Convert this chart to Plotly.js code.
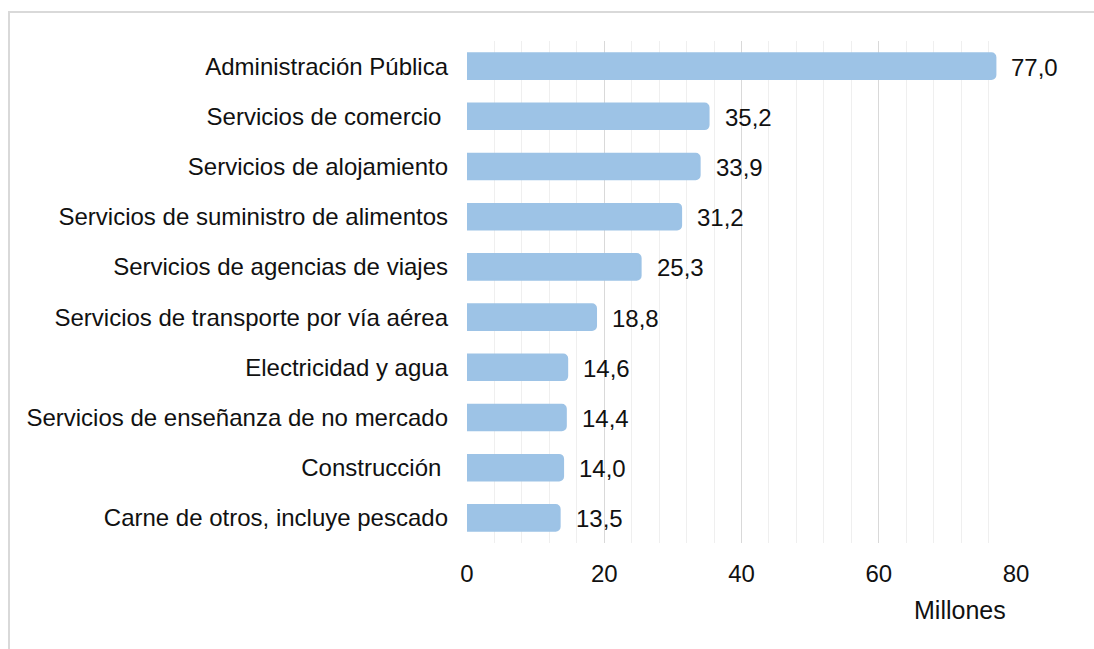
<!DOCTYPE html>
<html>
<head>
<meta charset="utf-8">
<script src="https://cdn.plot.ly/plotly-3.0.1.min.js"></script>
<style>
  html, body { margin: 0; padding: 0; background: #fff; }
  #chart { width: 1094px; height: 649px; }
  #frame { position: absolute; left: 8px; top: 11px; width: 1100px; height: 660px;
           border-left: 2px solid #D9D9D9; border-top: 2px solid #D9D9D9; pointer-events: none; }
</style>
</head>
<body>
<div id="chart"></div>
<div id="frame"></div>
<script>
const categories = [
  "Administración Pública",
  "Servicios de comercio ",
  "Servicios de alojamiento",
  "Servicios de suministro de alimentos",
  "Servicios de agencias de viajes",
  "Servicios de transporte por vía aérea",
  "Electricidad y agua",
  "Servicios de enseñanza de no mercado",
  "Construcción ",
  "Carne de otros, incluye pescado"
];
const values = [77.0, 35.2, 33.9, 31.2, 25.3, 18.8, 14.6, 14.4, 14.0, 13.5];
const xTickValues = [0, 20, 40, 60, 80];
const axisTitle = "Millones";

const font = "Liberation Sans, Arial, sans-serif";
const textColor = "#111111";
const fs = 24;

const trace = {
  type: "bar",
  orientation: "h",
  y: categories,
  x: values,
  marker: { color: "#9DC3E6", cornerradius: 4, line: { color: "#9DC3E6", width: 2 } },
  hoverinfo: "skip"
};

const annotations = categories.map((c, i) => ({
  x: values[i], y: c, xref: "x", yref: "y",
  text: values[i].toFixed(1).replace(".", ","),
  showarrow: false, xanchor: "left", yanchor: "middle", xshift: 14, yshift: -1,
  font: { family: font, size: fs, color: textColor }
}));
annotations.push({
  x: 0.898, y: -0.1335, xref: "paper", yref: "paper",
  text: axisTitle, showarrow: false, xanchor: "center", yanchor: "middle",
  font: { family: font, size: 25, color: textColor }
});

const layout = {
  width: 1094, height: 649,
  margin: { l: 467, r: 78, t: 41, b: 106 },
  paper_bgcolor: "#ffffff", plot_bgcolor: "#ffffff",
  showlegend: false,
  bargap: 0.49,
  font: { family: font, size: fs, color: textColor },
  xaxis: {
    range: [0, 80],
    tickvals: xTickValues,
    ticktext: xTickValues.map(String),
    showgrid: true, gridcolor: "#D9D9D9", gridwidth: 1,
    minor: { dtick: 4, showgrid: true, gridcolor: "#EFEFEF", gridwidth: 1 },
    zeroline: false, showline: false, ticks: "",
    ticklabelstandoff: 14,
    tickfont: { family: font, size: fs, color: textColor },
    fixedrange: true
  },
  yaxis: {
    type: "category",
    autorange: "reversed",
    showgrid: false, zeroline: false, showline: false, ticks: "",
    ticklabelstandoff: 18,
    tickfont: { family: font, size: fs, color: textColor },
    fixedrange: true
  },
  annotations: annotations
};

Plotly.newPlot("chart", [trace], layout, { displayModeBar: false, staticPlot: true });
</script>
</body>
</html>
